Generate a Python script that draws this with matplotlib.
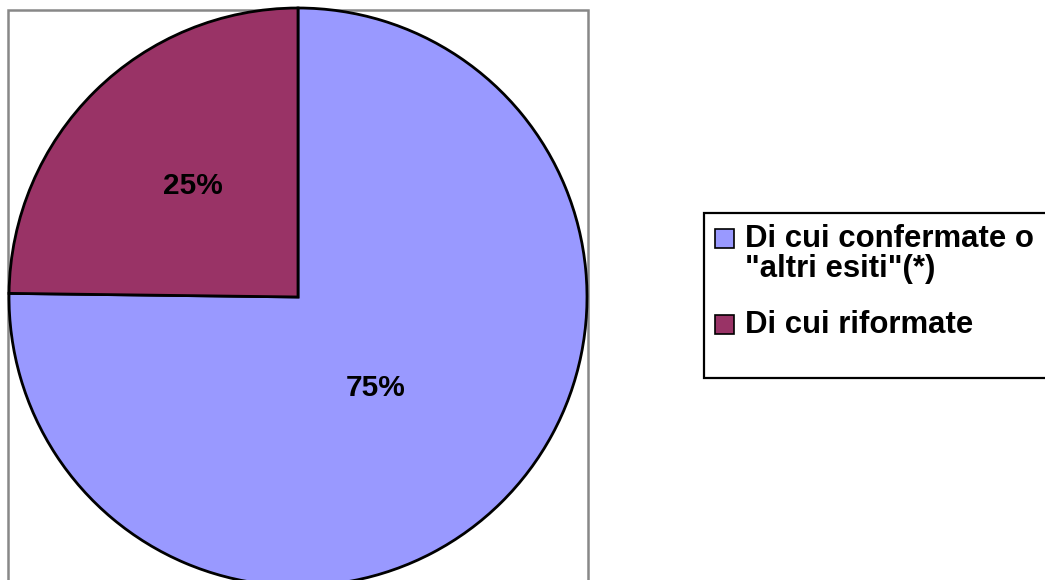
import matplotlib.pyplot as plt
from matplotlib.patches import Rectangle

labels = ['Di cui confermate o\n"altri esiti"(*)', 'Di cui riformate']
values = [75.2, 24.8]
colors = ['#9999FF', '#993366']

plt.rcParams['font.family'] = ['Liberation Sans', 'DejaVu Sans']

fig = plt.figure(figsize=(10.45, 5.8), dpi=100)
ax = fig.add_axes([0, 0, 1, 1])

# plot area border (gray, bottom runs off the figure)
ax.add_patch(Rectangle((8, -20), 580, 590, facecolor='white', edgecolor='#888888',
                       linewidth=1.8, zorder=0))

wedges, texts, autotexts = ax.pie(values, colors=colors, startangle=90, counterclock=False,
                                  center=(298, 283), radius=289,
                                  wedgeprops=dict(edgecolor='black', linewidth=2.0),
                                  autopct='%.0f%%', pctdistance=0.5,
                                  textprops=dict(fontsize=21.5, fontweight='bold', color='black'))
autotexts[0].set_position((376, 192))
autotexts[1].set_position((193, 394))
for t in autotexts:
    t.set_ha('center')
    t.set_va('center')

# legend box
ax.add_patch(Rectangle((704, 202), 360, 165, facecolor='white', edgecolor='black',
                       linewidth=1.6, zorder=5, clip_on=False))
rows = [[333, 303], [247]]
sw_y = [333, 247]
for i, lab in enumerate(labels):
    ax.add_patch(Rectangle((715, sw_y[i] - 1), 19, 19, facecolor=colors[i], edgecolor='black',
                           linewidth=1.2, zorder=6))
    for line, y in zip(lab.split('\n'), rows[i]):
        ax.text(745, y, line, fontsize=22.4, fontweight='bold', ha='left', va='baseline', zorder=7)

ax.set_xlim(0, 1045)
ax.set_ylim(0, 580)
ax.set_aspect('equal')
ax.axis('off')

fig.savefig('out.png', dpi=100)
